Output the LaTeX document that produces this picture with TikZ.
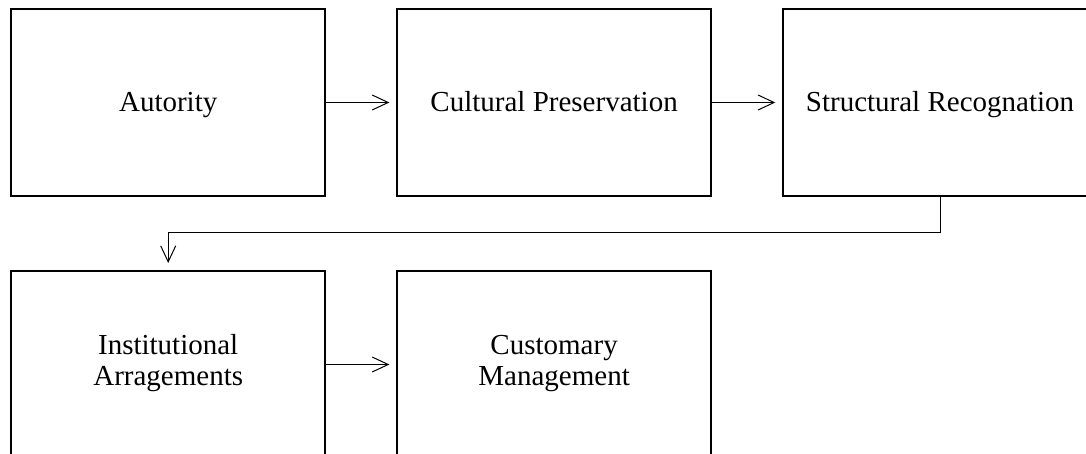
\documentclass[tikz,border=0pt]{standalone}
\usepackage{fontspec}
\setmainfont{Liberation Serif}
\usetikzlibrary{positioning,arrows.meta}
\begin{document}
\begin{tikzpicture}[
  box/.style={draw,line width=1pt,minimum width=156.75pt,minimum height=93.5pt,inner sep=0pt,align=center,font=\fontsize{14.5}{15.6}\selectfont,execute at begin node=\rule[-4.2pt]{0pt}{17.6pt}},
  link/.style={line width=.5pt,-{Straight Barb[length=8pt,width=7.5pt]},shorten >=3.5pt}]
\path [use as bounding box,clip] (0,0) rectangle (543pt,-227pt);
\node [box] (aut) at (84.1pt,-51.25pt) {Autority};
\node [box,right=35.2pt of aut] (cul) {Cultural Preservation};
\node [box,right=35.2pt of cul] (str) {Structural Recognation};
\node [box,below=36.5pt of aut] (ins) {Institutional\\Arragements};
\node [box,right=35.2pt of ins] (cus) {Customary\\Management};
\draw [link] (aut) -- (cul);
\draw [link] (cul) -- (str);
\draw [link] (str.south) -- ++(0,-18pt) -| (ins.north);
\draw [link] (ins) -- (cus);
\end{tikzpicture}
\end{document}
